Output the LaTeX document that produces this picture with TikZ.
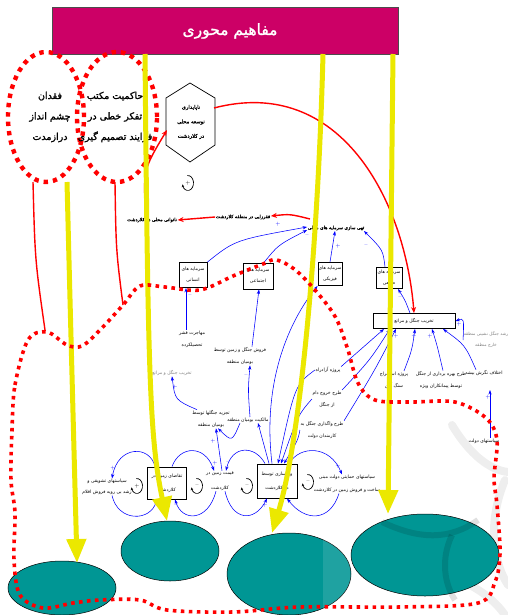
\documentclass[tikz,border=0pt]{standalone}
\usepackage{fontspec}
\usetikzlibrary{arrows.meta,shapes.geometric}
\TeXXeTstate=1
\newfontfamily\arabicfont[Script=Arabic]{DejaVu Sans}
\newfontfamily\arabicbold[Script=Arabic,FakeBold=1.5]{DejaVu Sans}
\newcommand\fa[1]{\beginR #1\endR}
\definecolor{hdr}{RGB}{204,0,102}
\definecolor{tealc}{RGB}{0,150,148}
\definecolor{yel}{RGB}{235,232,0}
\tikzset{
 lbl/.style={font=\arabicfont\fontsize{4.6}{12}\selectfont, align=center, inner sep=0.5pt},
 lblb/.style={font=\arabicbold\fontsize{4.6}{12}\selectfont, align=center, inner sep=0.5pt},
 glbl/.style={lbl, text=gray},
 capbox/.style={draw, line width=0.9pt, font=\arabicfont\fontsize{4.6}{11}\selectfont, align=center, inner sep=0pt},
 ctext/.style={font=\arabicbold\fontsize{9.5}{20.5}\selectfont, align=center, inner sep=0pt},
 barr/.style={draw=blue, line width=0.55pt, -{Stealth[length=4.5pt,width=3.2pt]}},
 rarr/.style={draw=red, line width=1.4pt, -{Stealth[length=6pt,width=5pt]}},
 rline/.style={draw=red, line width=1.4pt},
 yarr/.style={draw=yel, line width=5pt, -{Triangle[length=24pt,width=19pt]}},
 rdot/.style={draw=red, line width=3.6pt, dash pattern=on 3.6pt off 4.4pt},
 rdotc/.style={draw=red, line width=4.4pt, dash pattern=on 4.4pt off 5pt},
 ovl/.style={ellipse, fill=tealc, draw=black, line width=0.5pt, inner sep=0pt},
 sgn/.style={text=blue, font=\fontsize{5}{5}\selectfont, inner sep=0pt},
 lp/.style={draw=black, line width=0.7pt, -{Stealth[length=3pt,width=2.5pt]}},
}
\newcommand\loopsym[3]{%
  \draw[lp] (#1,#2) ++(100:5.5pt and 7.5pt) arc[start angle=100,end angle=-170,x radius=5.5pt,y radius=7.5pt];
  \node[font=\fontsize{5}{5}\selectfont, inner sep=0pt] at (#1,#2) {#3};}
\begin{document}
\begin{tikzpicture}[x=1pt,y=-1pt]
\useasboundingbox (0,0) rectangle (508,615);
% watermark
\begin{scope}[draw=gray!13, line width=8pt, line cap=round]
 \draw (452,425) .. controls (470,455) and (490,470) .. (508,472);
 \draw (505,480) .. controls (488,520) and (492,560) .. (508,585);
 \draw (470,585) .. controls (488,595) and (498,605) .. (505,615);
\end{scope}
% header
\node[draw=gray!60!black, fill=hdr, minimum width=346pt, minimum height=47pt, inner sep=0pt, anchor=north west] (hdr) at (52,7) {};
\node[text=white, font=\arabicbold\fontsize{15.5}{18}\selectfont] (hdrt) at (230,31) {\fa{مفاهیم محوری}};
% circles
\draw[rdotc] (46,117) ellipse[x radius=38pt,y radius=65pt];
\draw[rdotc] (117,117) ellipse[x radius=40pt,y radius=65pt];
\node[ctext] (c1) at (50,117) {\fa{فقدان}\\\fa{چشم انداز}\\\fa{درازمدت}};
\node[ctext] (c2) at (115,117) {\fa{حاکمیت مکتب}\\\fa{تفکر خطی در}\\\fa{فرایند تصمیم گیری}};
\coordinate (c1b) at (33,182);
\coordinate (c2b) at (115,182);
\coordinate (c1y) at (67,182);
% hexagon
\draw[line width=0.7pt] (190,83) -- (215,98) -- (215,145) -- (190,162) -- (166,145) -- (166,98) -- cycle;
\node[font=\arabicbold\fontsize{5.2}{14.5}\selectfont, align=center, inner sep=0pt] (hex) at (191,122) {\fa{ناپایداری}\\\fa{توسعه محلی}\\\fa{در کلاردشت}};
\coordinate (hexR) at (214,108);
\coordinate (hexL) at (167,130);
\loopsym{188}{183}{+}
% top labels
\node[lblb] (nak) at (152,220) {\fa{ناتوانی محلی در کلاردشت}};
\node[lblb] (afz) at (243,217) {\fa{فقرزایی در منطقه کلاردشت}};
\node[lblb] (tohi) at (336,228) {\fa{تهی سازی سرمایه های محلی}};
\coordinate (tohiR) at (310,219);
% capital boxes
\node[capbox, minimum width=28pt, minimum height=25pt] (ens) at (193,275) {\fa{سرمایه های}\\\fa{انسانی}};
\node[capbox, minimum width=30pt, minimum height=26pt] (ejt) at (258,276) {\fa{سرمایه های}\\\fa{اجتماعی}};
\node[capbox, minimum width=24pt, minimum height=23pt] (fiz) at (330,274) {\fa{سرمایه های}\\\fa{فیزیکی}};
\node[capbox, minimum width=26pt, minimum height=21pt] (tab) at (389,278) {\fa{سرمایه های}\\\fa{طبیعی}};
\node[capbox, minimum width=82pt, minimum height=15pt] (takh) at (414,321) {\fa{تخریب جنگل و مراتع}};
% middle labels
\node[lbl] (moh) at (192,339) {\fa{مهاجرت قشر}\\\fa{تحصیلکرده}};
\node[lbl] (foro) at (240,356) {\fa{فروش جنگل و زمین توسط}\\\fa{بومیان منطقه}};
\node[glbl] (gtakh) at (172,373) {\fa{تخریب جنگل و مراتع}};
\node[lbl] (tajz) at (211,419) {\fa{تجزیه جنگلها توسط}\\\fa{بومیان منطقه}};
\node[lbl] (malk) at (248,420) {\fa{مالکیت بومیان منطقه}};
\node[lbl] (azad) at (328,370) {\fa{پروژه آزادراه}};
\node[lbl] (khoruj) at (327,399) {\fa{طرح خروج دام}\\\fa{از جنگل}};
\node[lbl] (vagz) at (322,430) {\fa{طرح واگذاری جنگل به}\\\fa{کارمندان دولت}};
\node[lbl] (estk) at (394,380) {\fa{پروژه استخراج}\\\fa{سنگ آهن}};
\node[lbl] (bahr) at (441,380) {\fa{طرح بهره برداری از جنگل}\\\fa{توسط پیمانکاران ویژه}};
\node[lbl] (ekht) at (484,373) {\fa{اختلاف نگرش بیشه}};
\node[glbl, font=\arabicfont\fontsize{4.3}{11}\selectfont] (gray2) at (486,340) {\fa{رشد جنگل نشینی منطقه}\\\fa{خارج منطقه}};
\node[lbl] (siyd) at (484,441) {\fa{سیاستهای دولت}};
\coordinate (siydE) at (490,390);
% bottom row
\node[lbl, font=\arabicfont\fontsize{4.6}{11}\selectfont] (siy1) at (107,487) {\fa{سیاستهای تشویقی و}\\\fa{رشد بی رویه فروش اقلام}};
\node[capbox, minimum width=39pt, minimum height=32pt, font=\arabicfont\fontsize{4.6}{14}\selectfont] (box1) at (167,483) {\fa{تقاضای زمین در}\\\fa{کلاردشت}};
\node[lbl, font=\arabicfont\fontsize{4.6}{15}\selectfont] (qim) at (220,481) {\fa{قیمت زمین در}\\\fa{کلاردشت}};
\node[capbox, minimum width=40pt, minimum height=34pt, font=\arabicfont\fontsize{4.6}{14}\selectfont] (vil) at (277,481) {\fa{ویلاسازی توسط}\\\fa{در کلاردشت}};
\node[lbl, font=\arabicfont\fontsize{4.6}{13}\selectfont] (siy2) at (347,484) {\fa{سیاستهای حمایتی دولت مبنی}\\\fa{ساخت و فروش زمین در کلاردشت}};
\loopsym{137}{486}{+}
\loopsym{197}{486}{--}
\loopsym{247}{486}{--}
\loopsym{308}{482}{--}
% red arrows
\draw[rarr] (tohiR) .. controls (290,214) .. ([yshift=1pt]afz.east);
\draw[rarr] (afz.west) -- (nak.east);
\draw[rarr] ([xshift=-6pt]nak.north) .. controls (143,170) .. (hexL);
\draw[rarr] (hexR) .. controls (340,75) and (405,200) .. (takh.north);
\draw[rline] (c1b) .. controls (35,260) .. (45,330);
\draw[rline] (c2b) .. controls (116,250) .. (123,305);
% blue arrows top
\draw[barr] (ens.north east) .. controls (235,240) .. ([yshift=1pt]tohi.west);
\draw[barr] ([xshift=6pt]ejt.north) .. controls (278,245) .. ([yshift=-2pt]tohi.west);
\draw[barr] (fiz.north) -- ([xshift=-1pt]tohi.south);
\draw[barr] ([xshift=-4pt]tab.north) .. controls (383,250) .. ([xshift=28pt]tohi.south);
\draw[barr] ([xshift=-6pt]moh.north) -- ([xshift=-7pt]ens.south);
\draw[barr] ([xshift=12pt]foro.north) .. controls (255,320) .. ([xshift=1pt]ejt.south);
\draw[barr] ([xshift=-4pt]takh.north) .. controls (405,300) .. ([xshift=9pt]tab.south);
% middle arrows
\draw[barr] ([xshift=-14pt]tajz.north) .. controls (175,400) .. (gtakh.south);
\draw[barr] ([xshift=2pt]malk.north) .. controls (248,390) .. ([xshift=10pt]foro.south);
\draw[barr] ([xshift=-8pt]malk.south) .. controls (232,442) .. ([xshift=7pt]tajz.south);
\draw[barr] ([xshift=2pt]qim.north) -- ([xshift=5pt]tajz.south);
\draw[barr] ([xshift=-8pt]vil.north) -- ([xshift=10pt]malk.south);
\draw[barr] ([xshift=-5pt]vil.north) .. controls (262,380) and (290,320) .. (fiz.south west);
\draw[barr] (azad.west) .. controls (295,385) .. ([xshift=1pt]vil.north);
\draw[barr] (khoruj.west) .. controls (298,415) .. ([xshift=4pt]vil.north);
\draw[barr] (vagz.west) .. controls (298,440) .. ([xshift=7pt]vil.north);
\draw[barr] (azad.north east) .. controls (360,350) .. ([xshift=-30pt]takh.south);
\draw[barr] (khoruj.north east) .. controls (370,360) .. ([xshift=-24pt]takh.south);
\draw[barr] (vagz.north east) .. controls (375,370) .. ([xshift=-18pt]takh.south);
\draw[barr] ([xshift=10pt]estk.north) .. controls (412,350) .. ([xshift=1pt]takh.south);
\draw[barr] ([xshift=2pt]bahr.north) .. controls (437,345) .. ([xshift=18pt]takh.south);
\draw[barr] ([xshift=-8pt]ekht.north) .. controls (465,345) .. ([xshift=29pt]takh.south);
\draw[barr] (gray2.west) .. controls (464,318) .. (takh.east);
\draw[barr] ([xshift=6pt]siyd.north) -- (siydE);
% bottom arcs
\draw[barr] ([xshift=-12pt]box1.north) .. controls (150,445) and (118,445) .. ([xshift=5pt]siy1.north);
\draw[barr] ([xshift=5pt]siy1.south) .. controls (118,522) and (150,522) .. ([xshift=-10pt]box1.south);
\draw[barr] ([xshift=5pt]box1.north) .. controls (180,445) and (205,445) .. ([xshift=-6pt]qim.north);
\draw[barr] ([xshift=-4pt]qim.south) .. controls (208,522) and (182,522) .. ([xshift=8pt]box1.south);
\draw[barr] ([xshift=-12pt]vil.north) .. controls (255,445) and (232,445) .. ([xshift=6pt]qim.north);
\draw[barr] ([xshift=5pt]qim.south) .. controls (232,522) and (255,522) .. ([xshift=-10pt]vil.south);
\draw[barr] ([xshift=12pt]vil.north) .. controls (300,445) and (330,445) .. ([xshift=-5pt]siy2.north);
\draw[barr] ([xshift=-8pt]siy2.south) .. controls (330,522) and (305,522) .. ([xshift=10pt]vil.south);
% signs
\node[sgn] at (278,224) {+};
\node[sgn] at (307,236) {--};
\node[sgn] at (338,246) {+};
\node[sgn] at (366,246) {--};
\node[sgn] at (190,296) {--};
\node[sgn] at (258,295) {--};
\node[sgn] at (400,298) {--};
\node[sgn] at (175,387) {+};
\node[sgn] at (246,376) {--};
\node[sgn] at (213,441) {+};
\node[sgn] at (113,468) {+};
\node[sgn] at (215,463) {+};
\node[sgn] at (228,463) {--};
\node[sgn] at (338,466) {+};
\node[sgn] at (176,506) {--};
\node[sgn] at (265,505) {+};
\node[sgn] at (396,336) {+};
\node[sgn] at (414,336) {+};
\node[sgn] at (430,336) {+};
\node[sgn] at (459,324) {+};
\node[sgn] at (488,397) {+};
% ellipses
\node[ovl, minimum width=108pt, minimum height=54pt] (e1) at (62,588) {};
\node[ovl, minimum width=98pt, minimum height=60pt] (e2) at (170,551) {};
\node[ovl, minimum width=124pt, minimum height=82pt] (e3) at (289,574) {};
\node[ovl, minimum width=148pt, minimum height=82pt] (e4) at (425,555) {};
\begin{scope}[draw=black, opacity=0.12, line width=6pt]
 \draw (382,522) .. controls (420,540) and (450,540) .. (478,520);
 \draw (452,535) .. controls (440,560) and (445,585) .. (455,600);
\end{scope}
\fill[white, opacity=0.12] (323,536) -- (350,556) -- (351,592) -- (323,614) -- cycle;
% yellow arrows
\coordinate (y1e) at (77,563);
\coordinate (y2s) at (145,54);
\coordinate (y2e) at (167,521);
\coordinate (y3s) at (323,54);
\coordinate (y3e) at (272,533);
\coordinate (y4s) at (393,54);
\coordinate (y4e) at (388,514);
\draw[yarr] (c1y) .. controls (70,300) .. (y1e);
\draw[yarr] (y2s) .. controls (148,380) and (150,440) .. (y2e);
\draw[yarr] (y3s) .. controls (318,250) and (300,440) .. (y3e);
\draw[yarr] (y4s) -- (y4e);
% red dotted boundary
\draw[rdot] plot[smooth cycle, tension=0.55] coordinates {
 (12,430) (15,385) (28,340) (47,332) (67,345) (82,346) (100,330) (123,305) (140,286)
 (165,287) (200,290) (233,276) (263,264) (277,260) (300,274) (333,313) (347,347)
 (358,383) (375,400) (410,402) (455,402) (486,418) (497,440) (494,478) (497,505)
 (500,553) (495,582) (478,603) (400,607) (300,607) (233,612) (167,610) (140,600)
 (100,600) (73,603) (43,608) (20,595) (14,560) (15,513) (11,480)};
\end{tikzpicture}
\end{document}
